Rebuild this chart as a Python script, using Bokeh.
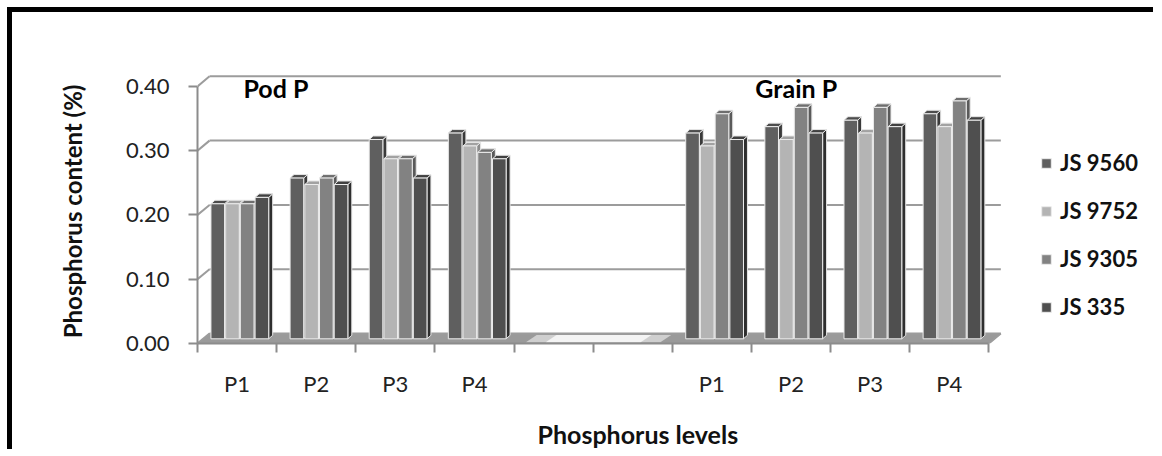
from bokeh.plotting import figure
from bokeh.models import (FixedTicker, NumeralTickFormatter, Legend, LegendItem,
                          Title, Range1d)
from bokeh.core.properties import value
from bokeh.embed import file_html
from bokeh.resources import INLINE

# ---------------- data ----------------
levels = ["P1", "P2", "P3", "P4"]
varieties = ["JS 9560", "JS 9752", "JS 9305", "JS 335"]
group_titles = ["Pod P", "Grain P"]

pod_js9560 = [0.21, 0.25, 0.31, 0.32]
pod_js9752 = [0.21, 0.24, 0.28, 0.30]
pod_js9305 = [0.21, 0.25, 0.28, 0.29]
pod_js335 = [0.22, 0.24, 0.25, 0.28]

grain_js9560 = [0.32, 0.33, 0.34, 0.35]
grain_js9752 = [0.30, 0.31, 0.32, 0.33]
grain_js9305 = [0.35, 0.36, 0.36, 0.37]
grain_js335 = [0.31, 0.32, 0.33, 0.34]

y_ticks = [0.0, 0.1, 0.2, 0.3, 0.4]

# ---------------- layout / style ----------------
FONT = "Lato"
W, H = 1146, 442
BORDER_L, BORDER_R, BORDER_T, BORDER_B = 185, 4, 61, 111
PX_PER_SLOT = 79.13
N_SLOTS = 10
pod_slots = [0, 1, 2, 3]
grain_slots = [6, 7, 8, 9]
X_END = (W - BORDER_L - BORDER_R) / PX_PER_SLOT   # frame also hosts the legend

WALL_DX, WALL_DY = 0.152, 0.0156      # depth offset of back wall
BAR_PITCH, BAR_W = 0.186, 0.172
GROUP_SHIFT = 0.035
BAR_LIFT = 0.0073
CAP_DX, CAP_DY = 0.05, 0.0055

front_cols = ["#5f5f5f", "#b4b4b4", "#828282", "#4f4f4f"]
side_cols = ["#3a3a3a", "#8c8c8c", "#5a5a5a", "#2e2e2e"]
top_cols = ["#4c4c4c", "#a2a2a2", "#6e6e6e", "#404040"]
GRID = "#9c9c9c"
AXIS = "#8c8c8c"

p = figure(width=W, height=H, x_range=Range1d(0, X_END),
           y_range=Range1d(0, 0.42), output_backend="svg", toolbar_location=None,
           min_border_left=BORDER_L, min_border_right=BORDER_R, min_border_top=BORDER_T,
           min_border_bottom=BORDER_B)
p.styles = {"border-left": "5px solid black", "border-top": "5px solid black",
            "margin-left": "7px", "margin-top": "7px"}
p.outline_line_color = None
p.xgrid.visible = False
p.ygrid.visible = False
p.background_fill_color = "white"
p.border_fill_color = "white"

# floor
p.patch(x=[0, N_SLOTS, N_SLOTS + WALL_DX, WALL_DX], y=[0, 0, WALL_DY, WALL_DY],
        fill_color="#9a9a9a", line_color="#8a8a8a", line_width=1)
gap_l, gap_r = pod_slots[-1] + 1, grain_slots[0]
p.patch(x=[gap_l + 0.15, gap_r - 0.15, gap_r - 0.15 + WALL_DX * 0.9, gap_l + 0.15 + WALL_DX * 0.9],
        y=[0.002, 0.002, WALL_DY * 0.85, WALL_DY * 0.85], fill_color="#cfcfcf", line_color=None)
p.patch(x=[gap_l + 0.4, gap_r - 0.4, gap_r - 0.4 + WALL_DX * 0.9, gap_l + 0.4 + WALL_DX * 0.9],
        y=[0.002, 0.002, WALL_DY * 0.85, WALL_DY * 0.85], fill_color="#f4f4f4", line_color=None)

# back-wall gridlines and connectors
p.segment(x0=[0] * len(y_ticks), y0=y_ticks, x1=[WALL_DX] * len(y_ticks),
          y1=[t + WALL_DY for t in y_ticks], line_color=GRID, line_width=2)
p.segment(x0=[WALL_DX] * len(y_ticks), y0=[t + WALL_DY for t in y_ticks],
          x1=[N_SLOTS + WALL_DX] * len(y_ticks), y1=[t + WALL_DY for t in y_ticks],
          line_color=GRID, line_width=2)
p.segment(x0=[N_SLOTS], y0=[0], x1=[N_SLOTS + WALL_DX], y1=[WALL_DY],
          line_color=GRID, line_width=2)

# bars
series = [
    (varieties[0], pod_js9560, grain_js9560),
    (varieties[1], pod_js9752, grain_js9752),
    (varieties[2], pod_js9305, grain_js9305),
    (varieties[3], pod_js335, grain_js335),
]
centers = [s + 0.5 for s in pod_slots + grain_slots]
legend_items = []
for i, (name, pod, grain) in enumerate(series):
    vals = pod + grain
    xc = [c + (i - 1.5) * BAR_PITCH + GROUP_SHIFT for c in centers]
    left = [x - BAR_W / 2 for x in xc]
    right = [x + BAR_W / 2 for x in xc]
    bottom = [BAR_LIFT] * len(vals)
    top = [v + BAR_LIFT for v in vals]
    side_xs = [[r, r + CAP_DX, r + CAP_DX, r] for r in right]
    side_ys = [[b, b + CAP_DY, t + CAP_DY, t] for b, t in zip(bottom, top)]
    top_xs = [[l, r, r + CAP_DX, l + CAP_DX] for l, r in zip(left, right)]
    top_ys = [[t, t, t + CAP_DY, t + CAP_DY] for t in top]
    p.patches(xs=side_xs, ys=side_ys, fill_color=side_cols[i], line_color="#e6e6e6", line_width=1)
    p.patches(xs=top_xs, ys=top_ys, fill_color=top_cols[i], line_color="#e6e6e6", line_width=1)
    r = p.quad(left=left, right=right, bottom=bottom, top=top,
               fill_color=front_cols[i], line_color="#ececec", line_width=1)
    legend_items.append(LegendItem(label=name, renderers=[r]))

# group titles
p.text(x=[0.58, 7.05], y=[0.398, 0.398], text=group_titles, text_font=value(FONT),
       text_font_style="bold", text_font_size="25px", text_baseline="middle",
       text_color="black")

# axes
xa = p.xaxis[0]
label_pos = [c for c in centers]
xa.ticker = FixedTicker(ticks=label_pos, minor_ticks=list(range(N_SLOTS + 1)))
xa.major_label_overrides = {pos: levels[k % 4] for k, pos in enumerate(label_pos)}
xa.bounds = (0, N_SLOTS)
xa.axis_line_color = AXIS
xa.axis_line_width = 2
xa.major_tick_out = 0
xa.major_tick_in = 0
xa.major_tick_line_color = None
xa.minor_tick_line_color = AXIS
xa.minor_tick_line_width = 2
xa.minor_tick_out = 9
xa.minor_tick_in = 0
xa.major_label_text_font = FONT
xa.major_label_text_font_size = "22px"
xa.major_label_text_color = "#222222"
xa.major_label_standoff = 17
# blank spacer label: pushes the x title (below) down to its place
xa.axis_label = " "
xa.axis_label_text_font_size = "8px"
xa.axis_label_standoff = 2

ya = p.yaxis[0]
ya.ticker = FixedTicker(ticks=y_ticks)
ya.formatter = NumeralTickFormatter(format="0.00")
ya.bounds = (0, 0.4)
ya.axis_line_color = AXIS
ya.axis_line_width = 2
ya.major_tick_line_color = AXIS
ya.major_tick_line_width = 2
ya.major_tick_out = 9
ya.major_tick_in = 0
ya.minor_tick_line_color = None
ya.major_label_text_font = FONT
ya.major_label_text_font_size = "22px"
ya.major_label_text_color = "#222222"
ya.major_label_standoff = 19
ya.axis_label = "Phosphorus  content (%)"
ya.axis_label_text_font = FONT
ya.axis_label_text_font_size = "24px"
ya.axis_label_text_font_style = "bold"
ya.axis_label_text_color = "#111111"
ya.axis_label_standoff = 36

xt = Title(text="Phosphorus levels", align="left", offset=340, text_font=FONT,
           text_font_size="25px", text_font_style="bold", text_color="#111111",
           standoff=6)
p.add_layout(xt, "below")

legend = Legend(items=legend_items, location=(843, 23), glyph_width=12, glyph_height=12,
                label_height=24, spacing=21, label_standoff=8, padding=0, margin=0,
                border_line_color=None, background_fill_alpha=0,
                label_text_font=FONT, label_text_font_size="22px",
                label_text_font_style="bold", label_text_color="#111111")
p.add_layout(legend, "center")

open("out.html", "w").write(file_html(p, INLINE))
